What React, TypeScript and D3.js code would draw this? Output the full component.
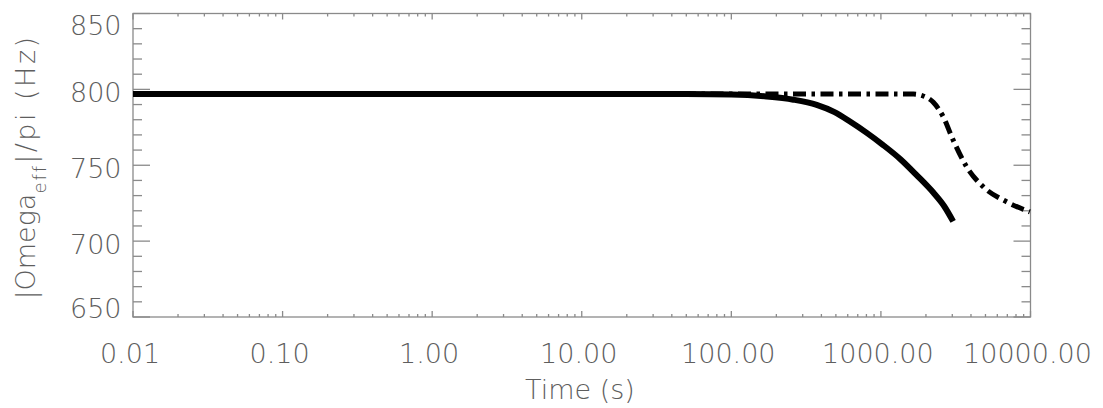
import React from 'react';
import * as d3 from 'd3';

// solid curve
const solidTime = [0.01, 1, 10, 50, 100, 172, 260, 372, 490, 621, 800, 1035, 1350, 1733, 2240, 2650, 3040];
const solidFreq = [797, 797, 797, 796.9, 796.6, 795.3, 793.2, 789.8, 785, 778.8, 771.5, 763.3, 754, 743.5, 732, 723, 713];

// dash-dot curve
const dashTime = [0.01, 1, 10, 100, 1000, 1650, 1900, 2240, 2610, 3040, 3740, 4830, 6920, 9900];
const dashFreq = [797, 797, 797, 797, 797, 796.9, 795.8, 791.5, 781.9, 766.6, 749, 735.8, 725.9, 719.3];

const xTickVals = [0.01, 0.1, 1, 10, 100, 1000, 10000];
const xTickLabels = ['0.01', '0.10', '1.00', '10.00', '100.00', '1000.00', '10000.00'];
const yTickVals = [650, 700, 750, 800, 850];

const W = 1103, H = 408;
const left = 133, right = 1030.5, top = 13.5, bottom = 317;
const axisColor = '#8a8a8a';
const textColor = '#5e5e5e';
const font = 'DejaVu Sans';

export default function App() {
  const x = d3.scaleLog().domain([0.01, 10000]).range([left, right]);
  const y = d3.scaleLinear().domain([650, 850]).range([bottom, top]);

  const line = d3.line<[number, number]>()
    .x(d => x(d[0]))
    .y(d => y(d[1]))
    .curve(d3.curveMonotoneX);

  const solidPath = line(solidTime.map((t, i) => [t, solidFreq[i]] as [number, number])) || '';
  const dashPath = line(dashTime.map((t, i) => [t, dashFreq[i]] as [number, number])) || '';

  // minor x ticks (2..9 in each decade)
  const xMinor: number[] = [];
  for (let e = -2; e < 4; e++) {
    for (let k = 2; k < 10; k++) xMinor.push(k * Math.pow(10, e));
  }
  const yMinor = d3.range(650, 851, 10).filter(v => v % 50 !== 0);

  const ticks: JSX.Element[] = [];
  xTickVals.forEach((v, i) => {
    ticks.push(<line key={'xb' + i} x1={x(v)} x2={x(v)} y1={bottom} y2={bottom - 6} />);
    ticks.push(<line key={'xt' + i} x1={x(v)} x2={x(v)} y1={top} y2={top + 6} />);
  });
  xMinor.forEach((v, i) => {
    ticks.push(<line key={'xbm' + i} x1={x(v)} x2={x(v)} y1={bottom} y2={bottom - 3} />);
    ticks.push(<line key={'xtm' + i} x1={x(v)} x2={x(v)} y1={top} y2={top + 3} />);
  });
  yTickVals.forEach((v, i) => {
    ticks.push(<line key={'yl' + i} x1={left} x2={left + 17} y1={y(v)} y2={y(v)} />);
    ticks.push(<line key={'yr' + i} x1={right} x2={right - 17} y1={y(v)} y2={y(v)} />);
  });
  yMinor.forEach((v, i) => {
    ticks.push(<line key={'ylm' + i} x1={left} x2={left + 9} y1={y(v)} y2={y(v)} />);
    ticks.push(<line key={'yrm' + i} x1={right} x2={right - 9} y1={y(v)} y2={y(v)} />);
  });

  return (
    <svg width={W} height={H} style={{ position: 'absolute', left: 0, top: 0, background: '#fff' }}
      fontFamily={font}>
      <g stroke={axisColor} strokeWidth={1.3} fill="none">
        <rect x={left} y={top} width={right - left} height={bottom - top} />
        {ticks}
      </g>

      <path d={dashPath} fill="none" stroke="#000" strokeWidth={5}
        strokeDasharray="13,5.5,3.5,5.5" />
      <path d={solidPath} fill="none" stroke="#000" strokeWidth={6} />

      <g fill={textColor} fontSize={27} fontWeight={200}>
        {xTickVals.map((v, i) => (
          <text key={'xl' + i} x={x(v) - 3} y={363} textAnchor="middle">{xTickLabels[i]}</text>
        ))}
        {yTickVals.map((v, i) => (
          <text key={'yl' + i} x={121.5} y={Math.min(Math.max(y(v) + 13, top + 21.5), bottom + 1)}
            textAnchor="end">{v}</text>
        ))}
        <text x={580} y={399} textAnchor="middle">Time (s)</text>
        <text transform="translate(35,167) rotate(-90)" textAnchor="middle">
          <tspan>|Omega</tspan>
          <tspan fontSize={18} dy={11} letterSpacing={2}>eff</tspan>
          <tspan dy={-11} letterSpacing={2.5}>|/pi (Hz)</tspan>
        </text>
      </g>
    </svg>
  );
}
